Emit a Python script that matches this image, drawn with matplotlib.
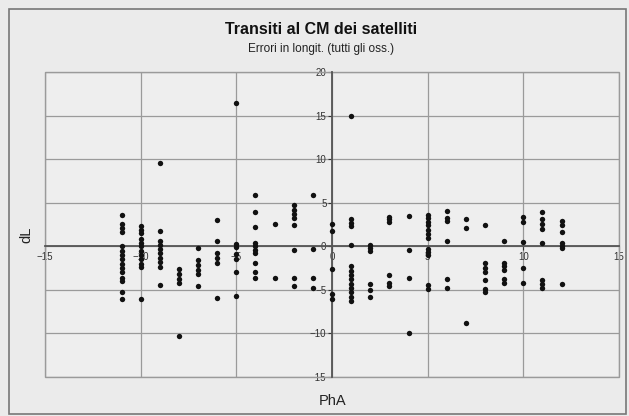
import matplotlib
matplotlib.use("Agg")
import matplotlib.pyplot as plt
from matplotlib.ticker import MultipleLocator
from matplotlib.patches import Rectangle

plt.rcParams['font.family'] = ['Liberation Sans', 'DejaVu Sans']

# PhA columns and dL values
pha = [-11, -10, -9, -8, -7, -6, -5, -4, -3, -2, -1, 0, 1, 2, 3, 4, 5, 6, 7, 8, 9, 10, 11, 12]
dl = [
    [3.6, 2.6, 2.1, 1.6, 0.0, -0.5, -1.0, -1.5, -2.0, -2.5, -3.0, -3.6, -4.0, -5.2, -6.1],
    [2.3, 1.9, 1.5, 0.8, 0.4, 0.0, -0.5, -1.0, -1.5, -2.0, -2.4, -6.0],
    [9.6, 1.8, 0.6, 0.2, -0.3, -0.8, -1.3, -1.8, -2.4, -4.4],
    [-2.6, -3.2, -3.7, -4.2, -10.3],
    [-0.2, -1.6, -2.2, -2.7, -3.2, -4.6],
    [3.0, 0.6, -0.8, -1.3, -1.9, -5.9],
    [16.4, 0.3, -0.1, -0.9, -1.5, -2.9, -5.7],
    [5.9, 3.9, 2.2, 0.4, 0.0, -0.4, -0.8, -1.9, -2.9, -3.6],
    [2.6, -3.6],
    [4.7, 4.2, 3.7, 3.3, 2.5, -0.4, -3.6, -4.5],
    [5.9, -0.3, -3.6, -4.8],
    [2.6, 1.7, -2.6, -5.5, -6.1],
    [15.0, 3.1, 2.7, 2.3, 0.1, -2.3, -2.8, -3.3, -3.8, -4.3, -4.8, -5.3, -5.8, -6.3],
    [0.1, -0.2, -0.5, -4.3, -5.0, -5.8],
    [3.4, 3.1, 2.8, -3.3, -4.2, -4.6],
    [3.5, -0.4, -3.6, -10.0],
    [3.6, 3.2, 2.8, 2.4, 1.9, 1.4, 0.95, -0.3, -0.7, -1.0, -4.4, -4.9],
    [4.1, 3.25, 2.85, 0.6, -3.7, -4.8],
    [3.1, 2.1, -8.8],
    [2.4, -1.9, -2.5, -3.0, -3.9, -4.9, -5.3],
    [0.65, -1.9, -2.3, -2.7, -3.8, -4.2],
    [3.4, 2.75, 0.5, -2.5, -4.2],
    [3.9, 3.1, 2.6, 2.0, 0.4, -3.9, -4.3, -4.8],
    [2.9, 2.4, 1.6, 0.4, 0.0, -0.2, -4.3],
]

xs = []
ys = []
for x, col in zip(pha, dl):
    for y in col:
        xs.append(x)
        ys.append(y)

bg = '#ebebeb'
fig = plt.figure(figsize=(6.29, 4.16), dpi=100, facecolor=bg)
ax = fig.add_axes([45/629, 1-377/416, (619-45)/629, (377-72)/416])
ax.set_facecolor('#eeeeee')

# outer chart frame
fig.patches.append(Rectangle((9/629, 2/416), 617/629, 405/416, transform=fig.transFigure,
                             fill=False, edgecolor='#777777', linewidth=1.2))
# plot area frame
ax.add_patch(Rectangle((0, 0), 1, 1, transform=ax.transAxes, fill=False,
                       edgecolor='#9a9a9a', linewidth=1.0, clip_on=False, zorder=1))

ax.scatter(xs, ys, s=15, color='#111111', zorder=3, linewidths=0)

ax.set_xlim(-15, 15)
ax.set_ylim(-15, 20)
ax.xaxis.set_major_locator(MultipleLocator(5))
ax.yaxis.set_major_locator(MultipleLocator(5))
ax.grid(True, color='#9a9a9a', linewidth=0.9)
ax.set_axisbelow(True)

for s in ['top', 'right']:
    ax.spines[s].set_visible(False)
ax.spines['left'].set_position('zero')
ax.spines['bottom'].set_position('zero')
ax.spines['left'].set_color('#555555')
ax.spines['bottom'].set_color('#555555')
ax.spines['left'].set_linewidth(1.3)
ax.spines['bottom'].set_linewidth(1.3)
ax.tick_params(axis='both', labelsize=7, colors='#333333', length=3, width=0.8, pad=1)

fig.text(0.51, 1-30/416, "Transiti al CM dei satelliti", ha='center', va='center',
         fontsize=11.5, fontweight='bold', color='#111111')
fig.text(0.51, 1-49/416, "Errori in longit. (tutti gli oss.)", ha='center', va='center',
         fontsize=8.5, color='#222222')
fig.text(333/629, 1-401/416, "PhA", ha='center', va='center', fontsize=10.5, color='#222222')
fig.text(26/629, 1-235/416, "dL", ha='center', va='center', fontsize=10.5, rotation=90,
         color='#222222')

fig.savefig("out.png", dpi=100, facecolor=bg)
